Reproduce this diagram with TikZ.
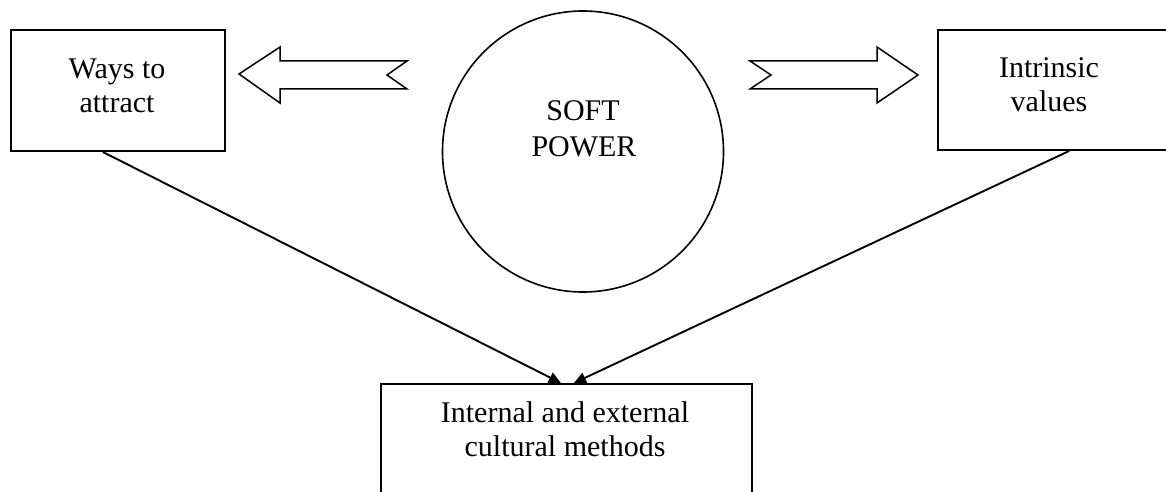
\documentclass[tikz,border=0pt]{standalone}
\usepackage{fontspec}
\setmainfont{Liberation Serif}
\usetikzlibrary{calc,arrows.meta}
\begin{document}
\begin{tikzpicture}[x=1pt,y=-1pt,
  box/.style={draw,line width=2pt,rectangle,inner sep=0pt,anchor=north west},
  txt/.style={font=\fontsize{30}{34}\selectfont,anchor=base,inner sep=0pt},
  blockarrow/.style={draw,line width=1.5pt,line join=miter,fill=white},
  link/.style={line width=1.9pt,-{Triangle[length=12pt,width=11pt]}}]
\useasboundingbox (0,0) rectangle (1166,492);
\clip (0,0) rectangle (1166,492);

% boxes
\node[box,minimum width=214pt,minimum height=121pt] (wa) at (10,29) {};
\node[box,minimum width=240pt,minimum height=120pt] (iv) at (937,29) {};
\node[box,minimum width=371pt,minimum height=130pt] (cm) at (380,383) {};

% central circle
\node[draw,circle,line width=1.6pt,minimum size=281pt,inner sep=0pt] (sp) at (583,151.5) {};

% labels
\node[txt] (wa1) at (117,79) {Ways to};
\node[txt] (wa2) at (117,113) {attract};
\node[txt] (iv1) at (1049,78) {Intrinsic};
\node[txt] (iv2) at (1049,112) {values};
\node[txt] (sp1) at (583,121) {SOFT};
\node[txt] (sp2) at (584,156) {POWER};
\node[txt] (cm1) at (565,422) {Internal and external};
\node[txt] (cm2) at (565,456) {cultural methods};

% notched block arrows out of the circle
\draw[blockarrow] (239,74) -- (280,47) -- (280,61) -- (407,61) -- (387,75)
  -- (407,89) -- (280,89) -- (280,103) -- cycle;
\draw[blockarrow] (750,61) -- (877,61) -- (877,47) -- (918,75) -- (877,103)
  -- (877,89) -- (750,89) -- (771,75) -- cycle;

% connectors into the bottom box
\draw[link] ($(wa.south west)!0.43!(wa.south east)$) -- ($(cm.north west)!0.485!(cm.north east)$);
\draw[link] ($(iv.south west)!0.546!(iv.south east)$) -- ($(cm.north west)!0.52!(cm.north east)$);
\end{tikzpicture}
\end{document}
